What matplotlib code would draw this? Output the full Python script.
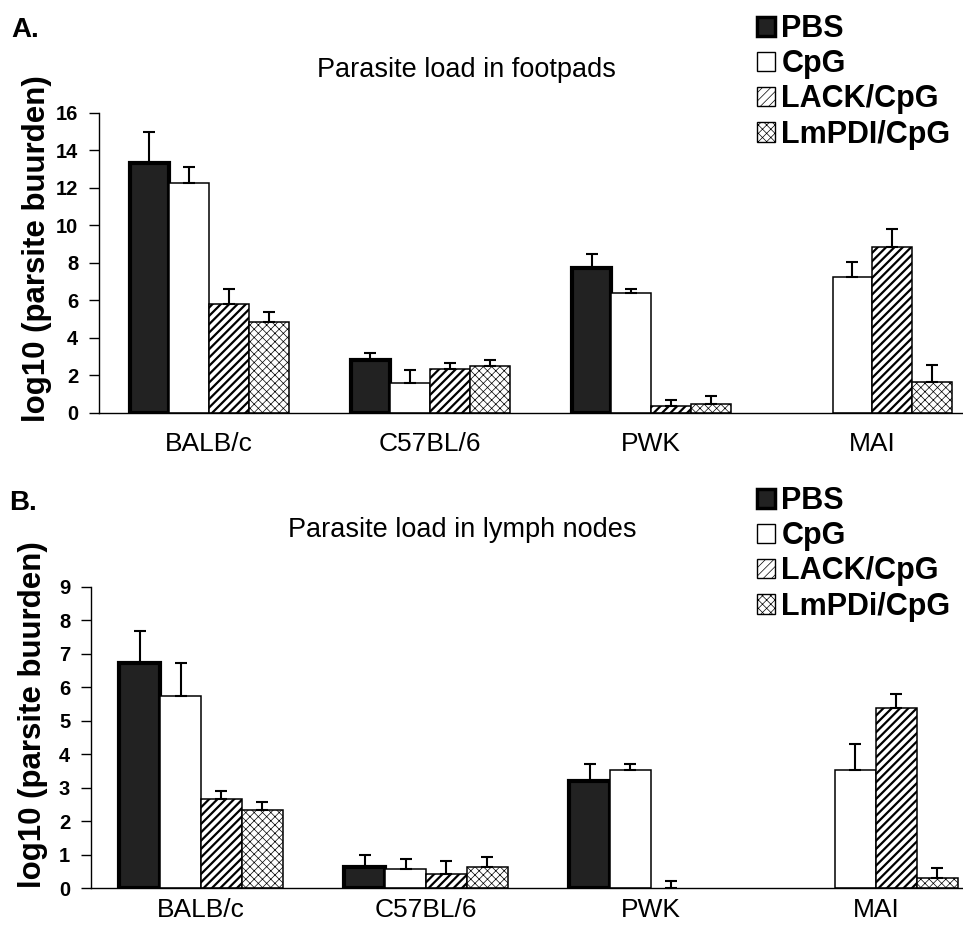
import numpy as np
import matplotlib
matplotlib.use("Agg")
import matplotlib.pyplot as plt
from matplotlib.patches import Patch

plt.rcParams['font.family'] = ['Liberation Sans', 'DejaVu Sans']

strains = ["BALB/c", "C57BL/6", "PWK", "MAI"]
groups = ["PBS", "CpG", "LACK/CpG", "LmPDI/CpG"]
groups_b = ["PBS", "CpG", "LACK/CpG", "LmPDi/CpG"]

# Panel A: footpads (mean, upper error)
a_pbs = [13.33, 2.83, 7.75, np.nan]
a_cpg = [12.27, 1.60, 6.40, 7.25]
a_lack = [5.80, 2.35, 0.35, 8.85]
a_lmpdi = [4.87, 2.50, 0.48, 1.67]
a_pbs_err = [1.67, 0.37, 0.75, 0.0]
a_cpg_err = [0.83, 0.70, 0.20, 0.82]
a_lack_err = [0.80, 0.30, 0.35, 0.95]
a_lmpdi_err = [0.53, 0.35, 0.42, 0.89]

# Panel B: lymph nodes
b_pbs = [6.72, 0.62, 3.20, np.nan]
b_cpg = [5.74, 0.56, 3.54, 3.54]
b_lack = [2.65, 0.42, 0.0, 5.38]
b_lmpdi = [2.32, 0.62, np.nan, 0.30]
b_pbs_err = [0.95, 0.37, 0.52, 0.0]
b_cpg_err = [0.99, 0.32, 0.18, 0.76]
b_lack_err = [0.25, 0.39, 0.22, 0.43]
b_lmpdi_err = [0.25, 0.30, 0.0, 0.30]

W, H = 963, 931
fig = plt.figure(figsize=(W / 100, H / 100), dpi=100)

styles = [
    dict(facecolor="#222222", edgecolor="black", linewidth=3.0, hatch=None, hlw=1.0),
    dict(facecolor="white", edgecolor="black", linewidth=1.1, hatch=None, hlw=1.0),
    dict(facecolor="white", edgecolor="black", linewidth=1.1, hatch="////", hlw=1.6),
    dict(facecolor="white", edgecolor="black", linewidth=1.1, hatch="xxxx", hlw=0.5),
]


def draw_panel(rect, series, errs, ymax, yticks, xlim, width, xpad):
    ax = fig.add_axes(rect)
    x = np.arange(len(strains))
    offs = (np.arange(4) - 1.5) * width
    for i, (vals, ev, st) in enumerate(zip(series, errs, styles)):
        vals = np.array(vals, dtype=float)
        plt.rcParams['hatch.linewidth'] = st['hlw']
        bars = ax.bar(x + offs[i], np.nan_to_num(vals), width, facecolor=st['facecolor'],
                      edgecolor=st['edgecolor'], linewidth=st['linewidth'],
                      hatch=st['hatch'], zorder=2)
        for b, v in zip(bars, vals):
            if np.isnan(v) or v == 0:
                b.set_visible(False)
            try:
                b.set_hatch_linewidth(st['hlw'])
            except Exception:
                pass
        ev = np.array(ev, dtype=float)
        mask = ~np.isnan(vals) & (ev > 0)
        ax.errorbar((x + offs[i])[mask], vals[mask],
                     yerr=[np.zeros(mask.sum()), ev[mask]],
                     fmt="none", ecolor="black", elinewidth=1.5, capsize=4.5,
                     capthick=1.5, zorder=3)
    ax.set_xlim(*xlim)
    ax.set_ylim(0, ymax)
    ax.set_yticks(yticks)
    ax.set_yticklabels([str(t) for t in yticks], fontsize=14.5, fontweight="bold")
    ax.set_xticks(x)
    ax.set_xticklabels(strains, fontsize=19)
    ax.tick_params(axis="x", length=0, pad=xpad)
    ax.tick_params(axis="y", length=7, width=1, direction="out", pad=8)
    for s in ["top", "right"]:
        ax.spines[s].set_visible(False)
    for s in ["left", "bottom"]:
        ax.spines[s].set_linewidth(1.0)
    return ax


axA = draw_panel([99 / W, 1 - 413 / H, 1 - 99 / W, 300 / H],
                 [a_pbs, a_cpg, a_lack, a_lmpdi],
                 [a_pbs_err, a_cpg_err, a_lack_err, a_lmpdi_err],
                 16, list(range(0, 17, 2)), (-0.498, 3.41), 0.18, 14)
axB = draw_panel([91 / W, 1 - 888 / H, 1 - 91 / W, 301 / H],
                 [b_pbs, b_cpg, b_lack, b_lmpdi],
                 [b_pbs_err, b_cpg_err, b_lack_err, b_lmpdi_err],
                 9, list(range(0, 10)), (-0.489, 3.387), 0.182, 7)

fig.text(11 / W, 1 - 37 / H, "A.", fontsize=20, fontweight="bold", ha="left", va="baseline")
fig.text(9 / W, 1 - 510 / H, "B.", fontsize=20, fontweight="bold", ha="left", va="baseline")
fig.text(466 / W, 1 - 70 / H, "Parasite load in footpads", fontsize=19.5, ha="center", va="center")
fig.text(462 / W, 1 - 530 / H, "Parasite load in lymph nodes", fontsize=19.5, ha="center", va="center")
fig.text(37 / W, 1 - 249 / H, "log10 (parsite buurden)", fontsize=22.5, fontweight="bold",
         rotation=90, ha="center", va="center")
fig.text(33 / W, 1 - 715 / H, "log10 (parsite buurden)", fontsize=22.5, fontweight="bold",
         rotation=90, ha="center", va="center")


def make_handles(labels):
    hs = []
    for st, lab in zip(styles, labels):
        plt.rcParams['hatch.linewidth'] = st['hlw']
        p = Patch(facecolor=st['facecolor'], edgecolor="black",
                  linewidth=2.5 if st['hatch'] is None and st['facecolor'] != "white" else 1.0,
                  hatch=st['hatch'], label=lab)
        try:
            p.set_hatch_linewidth(st['hlw'])
        except Exception:
            pass
        hs.append(p)
    return hs


for labels, ytop in [(groups, 14), (groups_b, 486)]:
    fig.legend(handles=make_handles(labels), loc="upper left",
               bbox_to_anchor=(757 / W, 1 - ytop / H), frameon=False,
               prop=dict(size=22, weight="bold"), handlelength=0.6, handleheight=0.6,
               handletextpad=0.2, labelspacing=0.17, borderpad=0, borderaxespad=0)

fig.savefig("out.png", dpi=100)
